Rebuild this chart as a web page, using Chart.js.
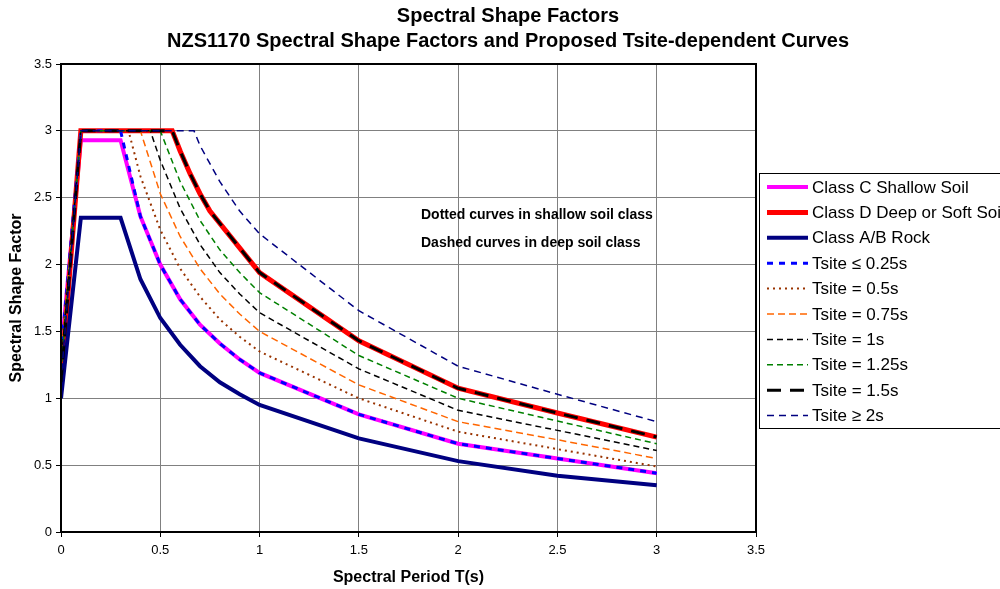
<!DOCTYPE html>
<html>
<head>
<meta charset="utf-8">
<script src="https://cdn.jsdelivr.net/npm/chart.js@4.4.0/dist/chart.umd.min.js"></script>
<style>body{margin:0;background:#fff}</style>
</head>
<body>
<canvas id="myChart" width="1000" height="589"></canvas>
<script>
// periods (s) for each curve
var periodsC = [0, 0.1, 0.3, 0.4, 0.5, 0.6, 0.7, 0.8, 0.9, 1, 1.5, 2, 2.5, 3];
var periodsD = [0, 0.1, 0.56, 0.6, 0.65, 0.7, 0.75, 1, 1.5, 2, 2.5, 3];
var periods05 = [0, 0.1, 0.34, 0.4, 0.5, 0.6, 0.7, 0.8, 0.9, 1, 1.5, 2, 2.5, 3];
var periods075 = [0, 0.1, 0.4, 0.5, 0.6, 0.7, 0.8, 0.9, 1, 1.5, 2, 2.5, 3];
var periods1 = [0, 0.1, 0.45, 0.5, 0.6, 0.7, 0.8, 0.9, 1, 1.5, 2, 2.5, 3];
var periods125 = [0, 0.1, 0.5, 0.6, 0.7, 0.8, 0.9, 1, 1.5, 2, 2.5, 3];
var periods2 = [0, 0.1, 0.67, 0.7, 0.8, 0.9, 1, 1.5, 2, 2.5, 3];

// spectral shape factor values
var classC = [1.33, 2.93, 2.93, 2.36, 2.00, 1.74, 1.55, 1.41, 1.29, 1.19, 0.88, 0.66, 0.55, 0.44];
var classD = [1.12, 3.00, 3.00, 2.85, 2.68, 2.53, 2.40, 1.94, 1.43, 1.075, 0.89, 0.71];
var classAB = [1.00, 2.35, 2.35, 1.89, 1.60, 1.40, 1.24, 1.12, 1.03, 0.95, 0.70, 0.53, 0.42, 0.35];
var tsite025 = [1.33, 3.00, 3.00, 2.36, 2.00, 1.74, 1.55, 1.41, 1.29, 1.19, 0.88, 0.66, 0.55, 0.44];
var tsite05 = [1.33, 3.00, 3.00, 2.66, 2.26, 1.97, 1.76, 1.59, 1.46, 1.35, 1.00, 0.75, 0.62, 0.49];
var tsite075 = [1.30, 3.00, 3.00, 2.53, 2.21, 1.97, 1.78, 1.63, 1.50, 1.10, 0.825, 0.69, 0.55];
var tsite1 = [1.25, 3.00, 3.00, 2.78, 2.42, 2.15, 1.94, 1.78, 1.64, 1.22, 0.91, 0.76, 0.61];
var tsite125 = [1.20, 3.00, 3.00, 2.62, 2.33, 2.11, 1.94, 1.79, 1.32, 1.00, 0.83, 0.66];
var tsite15 = [1.12, 3.00, 3.00, 2.85, 2.68, 2.53, 2.40, 1.94, 1.43, 1.075, 0.89, 0.71];
var tsite2 = [1.12, 3.00, 3.00, 2.89, 2.62, 2.40, 2.23, 1.655, 1.24, 1.03, 0.825];

var axisTicks = [0, 0.5, 1, 1.5, 2, 2.5, 3, 3.5];

var titleLines = ['Spectral Shape Factors', 'NZS1170 Spectral Shape Factors and Proposed Tsite-dependent Curves'];
var notes = ['Dotted curves in shallow soil class', 'Dashed curves in deep soil class'];

function pts(periods, vals) {
  return periods.map(function (t, i) { return {x: t, y: vals[i]}; });
}

var FONT = 'Liberation Sans, Arial, Helvetica, sans-serif';
Chart.defaults.font.family = FONT;
Chart.defaults.color = '#000';

var sets = [
  {label: 'Class C Shallow Soil', data: pts(periodsC, classC), borderColor: '#ff00ff', borderWidth: 4},
  {label: 'Class D Deep or Soft Soil', data: pts(periodsD, classD), borderColor: '#ff0000', borderWidth: 5},
  {label: 'Class A/B Rock', data: pts(periodsC, classAB), borderColor: '#000080', borderWidth: 4},
  {label: 'Tsite \u2264 0.25s', data: pts(periodsC, tsite025), borderColor: '#0000ff', borderWidth: 3, borderDash: [6, 6]},
  {label: 'Tsite = 0.5s', data: pts(periods05, tsite05), borderColor: '#993300', borderWidth: 2, borderDash: [2, 4]},
  {label: 'Tsite = 0.75s', data: pts(periods075, tsite075), borderColor: '#ff6600', borderWidth: 1.5, borderDash: [7, 4]},
  {label: 'Tsite = 1s', data: pts(periods1, tsite1), borderColor: '#000000', borderWidth: 1.5, borderDash: [6, 4]},
  {label: 'Tsite = 1.25s', data: pts(periods125, tsite125), borderColor: '#008000', borderWidth: 1.5, borderDash: [6, 4]},
  {label: 'Tsite = 1.5s', data: pts(periodsD, tsite15), borderColor: '#000000', borderWidth: 3, borderDash: [14, 9]},
  {label: 'Tsite \u2265 2s', data: pts(periods2, tsite2), borderColor: '#000080', borderWidth: 1.5, borderDash: [7, 5]}
];
sets.forEach(function (s, i) {
  s.pointRadius = 0;
  s.tension = 0;
  s.fill = false;
  s.order = 20 - i;
});

var extras = {
  id: 'extras',
  afterDraw: function (chart) {
    var ctx = chart.ctx, a = chart.chartArea;
    ctx.save();
    // plot border
    ctx.strokeStyle = '#000';
    ctx.lineWidth = 2;
    ctx.setLineDash([]);
    ctx.strokeRect(a.left, a.top, a.right - a.left, a.bottom - a.top);

    // titles
    ctx.fillStyle = '#000';
    ctx.textAlign = 'center';
    ctx.textBaseline = 'middle';
    ctx.font = 'bold 20px ' + FONT;
    ctx.fillText(titleLines[0], 508, 16);
    ctx.fillText(titleLines[1], 508, 41);

    // notes inside plot
    ctx.textAlign = 'left';
    ctx.font = 'bold 14px ' + FONT;
    ctx.fillText(notes[0], 421, 215);
    ctx.fillText(notes[1], 421, 243);

    // legend
    ctx.lineWidth = 1;
    ctx.strokeStyle = '#000';
    ctx.strokeRect(759.5, 173.5, 260, 255);
    ctx.font = '17px ' + FONT;
    chart.data.datasets.forEach(function (ds, i) {
      var y = 187 + i * 25.4;
      ctx.strokeStyle = ds.borderColor;
      ctx.lineWidth = ds.borderWidth;
      ctx.setLineDash(ds.borderDash || []);
      ctx.beginPath();
      ctx.moveTo(767, y);
      ctx.lineTo(808, y);
      ctx.stroke();
      ctx.setLineDash([]);
      ctx.fillStyle = '#000';
      ctx.fillText(ds.label, 812, y + 1);
    });
    ctx.restore();
  }
};

function tickText(v) { return String(v); }

var myChart = new Chart(document.getElementById('myChart'), {
  type: 'line',
  data: {datasets: sets},
  options: {
    responsive: false,
    animation: false,
    layout: {padding: {top: 64, right: 244, left: 0, bottom: 0}},
    plugins: {legend: {display: false}, title: {display: false}, tooltip: {enabled: false}},
    scales: {
      x: {
        type: 'linear', min: 0, max: 3.5,
        afterBuildTicks: function (s) { s.ticks = axisTicks.map(function (v) { return {value: v}; }); },
        afterFit: function (s) { s.height = 57; },
        grid: {color: '#808080', lineWidth: 1, tickLength: 5, tickColor: '#000'},
        border: {color: '#000', width: 2},
        ticks: {font: {size: 13}, padding: 6, maxRotation: 0, callback: tickText},
        title: {display: true, text: 'Spectral Period T(s)', font: {size: 16, weight: 'bold'}, padding: {top: 4, bottom: 2}}
      },
      y: {
        type: 'linear', min: 0, max: 3.5,
        afterBuildTicks: function (s) { s.ticks = axisTicks.map(function (v) { return {value: v}; }); },
        afterFit: function (s) { s.width = 61; },
        grid: {color: '#808080', lineWidth: 1, tickLength: 5, tickColor: '#000'},
        border: {color: '#000', width: 2},
        ticks: {font: {size: 13}, padding: 4, callback: tickText},
        title: {display: true, text: 'Spectral Shape Factor', font: {size: 16, weight: 'bold'}, padding: {top: 7, bottom: 4}}
      }
    }
  },
  plugins: [extras]
});
</script>
</body>
</html>
